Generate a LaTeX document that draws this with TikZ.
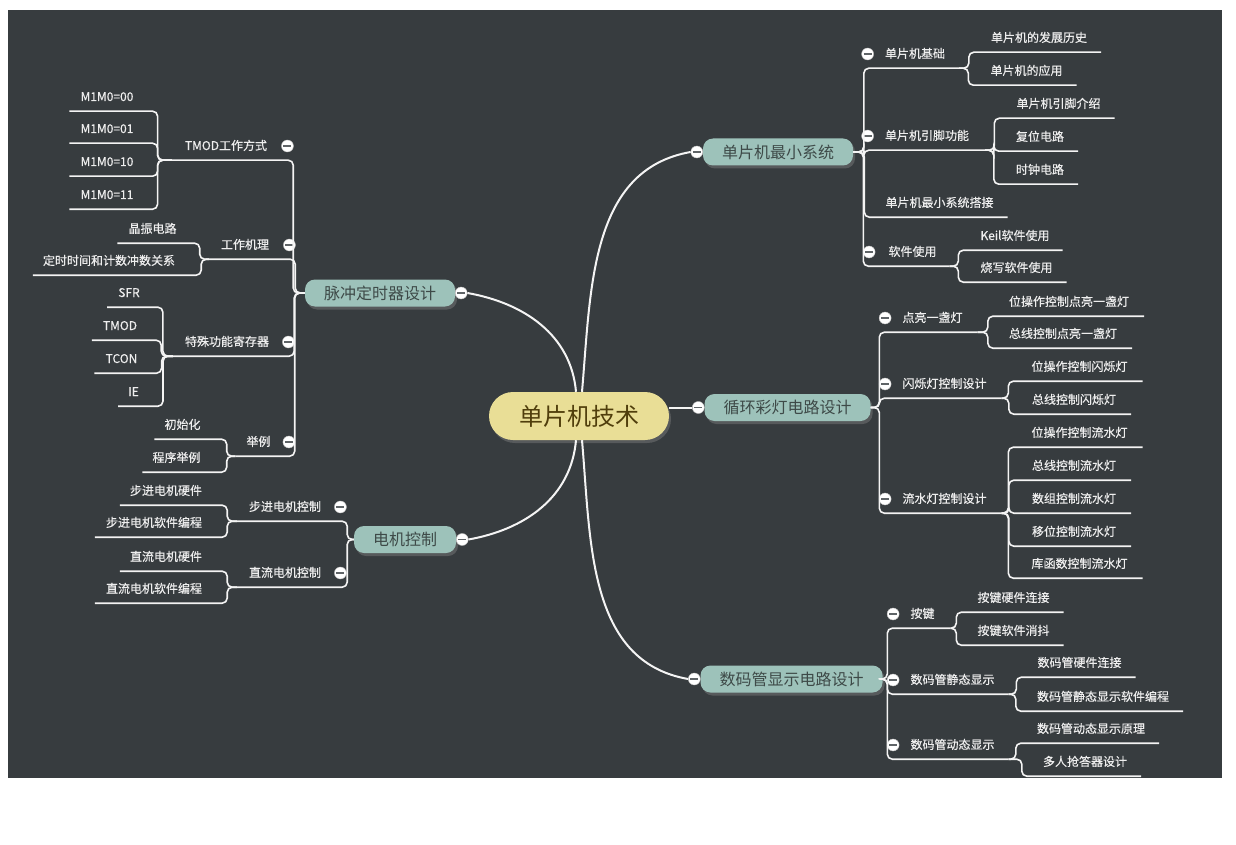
\documentclass[tikz,border=0pt]{standalone}
\usepackage{fontspec}
\setmainfont{Noto Sans CJK SC}
\newfontfamily\itemfont{Noto Sans CJK SC}[FakeBold=0.5]
\usetikzlibrary{positioning}
\usetikzlibrary{shadows}
\definecolor{bgdark}{RGB}{55,60,63}
\definecolor{rootfill}{RGB}{233,222,150}
\definecolor{roottext}{RGB}{80,62,12}
\definecolor{topicfill}{RGB}{157,194,186}
\definecolor{topictext}{RGB}{62,74,72}
\definecolor{leaftext}{RGB}{238,238,238}
\definecolor{linecol}{RGB}{244,244,244}
\definecolor{foldbar}{RGB}{95,100,103}
\tikzset{root/.style = {rounded corners=24pt,fill=rootfill,text=roottext,minimum width=180pt,minimum height=48pt,font=\fontsize{24}{28}\selectfont,drop shadow={shadow xshift=2pt,shadow yshift=-3pt,opacity=.45}}}
\tikzset{topic/.style = {rounded corners=10pt,fill=topicfill,text=topictext,minimum height=27pt,inner xsep=19pt,font=\fontsize{16}{19}\selectfont,drop shadow={shadow xshift=2pt,shadow yshift=-3pt,opacity=.45}}}
\tikzset{item/.style = {text=leaftext,font=\itemfont\fontsize{12}{14}\selectfont,inner xsep=0pt,inner ysep=8pt,text height=10pt,text depth=2pt}}
\tikzset{fold/.style = {circle,fill=white,draw=white!75!black,line width=.4pt,minimum size=12pt,inner sep=0pt,
  path picture={\draw[foldbar,line width=1.6pt] ([xshift=-4pt]path picture bounding box.center) -- ([xshift=4pt]path picture bounding box.center);}}}
\tikzset{trunk/.style = {linecol,line width=2pt}}
\tikzset{twig/.style = {linecol,line width=1.6pt,rounded corners=5pt}}

\begin{document}
\begin{tikzpicture}[x=1pt,y=1pt]
                \fill[white] (0,0) rectangle (1236,-845);
                \fill[bgdark] (8,-10) rectangle (1222,-778);

                \node[root] (c) at (579,-416) {单片机技术};

                \node[topic] (m1) at (778,-152) {单片机最小系统};
                \node[topic] (m2) at (787.5,-407.5) {循环彩灯电路设计};
                \node[topic] (m3) at (791.5,-679) {数码管显示电路设计};
                \node[topic] (m4) at (380,-293) {脉冲定时器设计};
                \node[topic] (m5) at (405,-539.5) {电机控制};

                \node[fold] (f1) at ([xshift=-6pt]m1.west) {};
                \node[fold] (f2) at ([xshift=-6pt]m2.west) {};
                \node[fold] (f3) at ([xshift=-6pt]m3.west) {};
                \node[fold] (f4) at ([xshift=6pt]m4.east) {};
                \node[fold] (f5) at ([xshift=6pt]m5.east) {};

                % 单片机最小系统
                \node[item] (s11) at (915,-54) {单片机基础};
                \node[item] (s12) at (927,-136) {单片机引脚功能};
                \node[item] (s13) at (939.5,-203) {单片机最小系统搭接};
                \node[item] (s14) at (912.5,-252) {软件使用};
                \node[item] (l111) at (1039,-38) {单片机的发展历史};
                \node[item] (l112) at (1026.5,-71) {单片机的应用};
                \node[item] (l121) at (1058.5,-104) {单片机引脚介绍};
                \node[item] (l122) at (1040,-137) {复位电路};
                \node[item] (l123) at (1040,-170) {时钟电路};
                \node[item] (l141) at (1015,-236) {Keil软件使用};
                \node[item] (l142) at (1016.5,-268) {烧写软件使用};
                \node[fold,left=11pt of s11] (g11) {};
                \node[fold,left=11pt of s12] (g12) {};
                \node[fold,left=13pt of s14] (g14) {};

                % 循环彩灯电路设计
                \node[item] (s21) at (932.5,-318) {点亮一盏灯};
                \node[item] (s22) at (944.5,-384) {闪烁灯控制设计};
                \node[item] (s23) at (944.5,-499) {流水灯控制设计};
                \node[item] (l211) at (1069,-302) {位操作控制点亮一盏灯};
                \node[item] (l212) at (1063,-334) {总线控制点亮一盏灯};
                \node[item] (l221) at (1079.5,-367) {位操作控制闪烁灯};
                \node[item] (l222) at (1074,-400) {总线控制闪烁灯};
                \node[item] (l231) at (1079.5,-433) {位操作控制流水灯};
                \node[item] (l232) at (1074,-466) {总线控制流水灯};
                \node[item] (l233) at (1074,-499) {数组控制流水灯};
                \node[item] (l234) at (1074,-532) {移位控制流水灯};
                \node[item] (l235) at (1079.5,-564) {库函数控制流水灯};
                \node[fold,left=11pt of s21] (g21) {};
                \node[fold,left=11pt of s22] (g22) {};
                \node[fold,left=11pt of s23] (g23) {};

                % 数码管显示电路设计
                \node[item] (s31) at (922.5,-614) {按键};
                \node[item] (s32) at (952.5,-680) {数码管静态显示};
                \node[item] (s33) at (952.5,-745) {数码管动态显示};
                \node[item] (l311) at (1013.5,-598) {按键硬件连接};
                \node[item] (l312) at (1013.5,-631) {按键软件消抖};
                \node[item] (l321) at (1079.5,-663) {数码管硬件连接};
                \node[item] (l322) at (1103,-697) {数码管静态显示软件编程};
                \node[item] (l331) at (1091,-729) {数码管动态显示原理};
                \node[item] (l332) at (1085,-762) {多人抢答器设计};
                \node[fold,left=11pt of s31] (g31) {};
                \node[fold,left=11pt of s32] (g32) {};
                \node[fold,left=11pt of s33] (g33) {};

                % 脉冲定时器设计
                \node[item] (s41) at (226,-146) {TMOD工作方式};
                \node[item] (s42) at (245,-245) {工作机理};
                \node[item] (s43) at (227,-342) {特殊功能寄存器};
                \node[item] (s44) at (258.5,-442) {举例};
                \node[item] (l411) at (107,-97) {M1M0=00};
                \node[item] (l412) at (107,-129) {M1M0=01};
                \node[item] (l413) at (107,-162) {M1M0=10};
                \node[item] (l414) at (107,-195) {M1M0=11};
                \node[item] (l421) at (152.5,-229) {晶振电路};
                \node[item] (l422) at (109,-261) {定时时间和计数冲数关系};
                \node[item] (l431) at (129,-293) {SFR};
                \node[item] (l432) at (120,-326) {TMOD};
                \node[item] (l433) at (121.5,-359) {TCON};
                \node[item] (l434) at (133.5,-392) {IE};
                \node[item] (l441) at (182.5,-425) {初始化};
                \node[item] (l442) at (176.5,-458) {程序举例};
                \node[fold,right=14pt of s41] (g41) {};
                \node[fold,right=14pt of s42] (g42) {};
                \node[fold,right=13pt of s43] (g43) {};
                \node[fold,right=12pt of s44] (g44) {};

                % 电机控制
                \node[item] (s51) at (285,-507) {步进电机控制};
                \node[item] (s52) at (285,-573) {直流电机控制};
                \node[item] (l511) at (166,-491) {步进电机硬件};
                \node[item] (l512) at (154,-523) {步进电机软件编程};
                \node[item] (l521) at (166,-557) {直流电机硬件};
                \node[item] (l522) at (154,-589) {直流电机软件编程};
                \node[fold,right=13pt of s51] (g51) {};
                \node[fold,right=13pt of s52] (g52) {};

                % main branches
                \draw[trunk] ([xshift=3pt]c.north) to[out=85,in=190] (f1.west);
                \draw[trunk] (f2.west) -- (f2.west -| c.east);
                \draw[trunk] ([xshift=3pt]c.south) to[out=-85,in=170] (f3.west);
                \draw[trunk] ([xshift=-3pt]c.north) to[out=95,in=-10] (f4.east);
                \draw[trunk] ([xshift=-3pt]c.south) to[out=-95,in=10] (f5.east);

                \draw[twig] (m1.east) -| ([xshift=-21pt]s11.south west) -- ([xshift=14pt]s11.south east);
                \draw[twig] (m1.east) -| ([xshift=-21pt]s12.south west) -- ([xshift=16pt]s12.south east);
                \draw[twig] (m1.east) -| ([xshift=-21pt]s13.south west) -- ([xshift=14pt]s13.south east);
                \draw[twig] (m1.east) -| ([xshift=-25pt]s14.south west) -- ([xshift=13pt]s14.south east);
                \draw[twig] ([xshift=14pt]s11.south east) -| ([xshift=-22pt]l111.south west) -- ([xshift=14pt]l111.south east);
                \draw[twig] ([xshift=14pt]s11.south east) -| ([xshift=-22pt]l112.south west) -- ([xshift=14pt]l112.south east);
                \draw[twig] ([xshift=16pt]s12.south east) -| ([xshift=-22pt]l121.south west) -- ([xshift=14pt]l121.south east);
                \draw[twig] ([xshift=16pt]s12.south east) -| ([xshift=-22pt]l122.south west) -- ([xshift=14pt]l122.south east);
                \draw[twig] ([xshift=16pt]s12.south east) -| ([xshift=-22pt]l123.south west) -- ([xshift=14pt]l123.south east);
                \draw[twig] ([xshift=13pt]s14.south east) -| ([xshift=-22pt]l141.south west) -- ([xshift=13pt]l141.south east);
                \draw[twig] ([xshift=13pt]s14.south east) -| ([xshift=-22pt]l142.south west) -- ([xshift=14pt]l142.south east);

                \draw[twig] (m2.east) -| ([xshift=-23pt]s21.south west) -- ([xshift=15pt]s21.south east);
                \draw[twig] (m2.east) -| ([xshift=-23pt]s22.south west) -- ([xshift=15pt]s22.south east);
                \draw[twig] (m2.east) -| ([xshift=-23pt]s23.south west) -- ([xshift=15pt]s23.south east);
                \draw[twig] ([xshift=15pt]s21.south east) -| ([xshift=-21pt]l211.south west) -- ([xshift=15pt]l211.south east);
                \draw[twig] ([xshift=15pt]s21.south east) -| ([xshift=-21pt]l212.south west) -- ([xshift=15pt]l212.south east);
                \draw[twig] ([xshift=15pt]s22.south east) -| ([xshift=-23pt]l221.south west) -- ([xshift=15pt]l221.south east);
                \draw[twig] ([xshift=15pt]s22.south east) -| ([xshift=-23pt]l222.south west) -- ([xshift=15pt]l222.south east);
                \draw[twig] ([xshift=15pt]s23.south east) -| ([xshift=-23pt]l231.south west) -- ([xshift=15pt]l231.south east);
                \draw[twig] ([xshift=15pt]s23.south east) -| ([xshift=-23pt]l232.south west) -- ([xshift=15pt]l232.south east);
                \draw[twig] ([xshift=15pt]s23.south east) -| ([xshift=-23pt]l233.south west) -- ([xshift=15pt]l233.south east);
                \draw[twig] ([xshift=15pt]s23.south east) -| ([xshift=-23pt]l234.south west) -- ([xshift=15pt]l234.south east);
                \draw[twig] ([xshift=15pt]s23.south east) -| ([xshift=-23pt]l235.south west) -- ([xshift=15pt]l235.south east);

                \draw[twig] (m3.east) -| ([xshift=-23pt]s31.south west) -- ([xshift=16pt]s31.south east);
                \draw[twig] (m3.east) -| ([xshift=-23pt]s32.south west) -- ([xshift=14pt]s32.south east);
                \draw[twig] (m3.east) -| ([xshift=-23pt]s33.south west) -- ([xshift=14pt]s33.south east);
                \draw[twig] ([xshift=16pt]s31.south east) -| ([xshift=-21pt]l311.south west) -- ([xshift=14pt]l311.south east);
                \draw[twig] ([xshift=16pt]s31.south east) -| ([xshift=-21pt]l312.south west) -- ([xshift=14pt]l312.south east);
                \draw[twig] ([xshift=14pt]s32.south east) -| ([xshift=-21pt]l321.south west) -- ([xshift=14pt]l321.south east);
                \draw[twig] ([xshift=14pt]s32.south east) -| ([xshift=-21pt]l322.south west) -- ([xshift=14pt]l322.south east);
                \draw[twig] ([xshift=14pt]s33.south east) -| ([xshift=-21pt]l331.south west) -- ([xshift=14pt]l331.south east);
                \draw[twig] ([xshift=14pt]s33.south east) -| ([xshift=-21pt]l332.south west) -- ([xshift=14pt]l332.south east);

                \draw[twig] (m4.west) -| ([xshift=26pt]s41.south east) -- ([xshift=-13pt]s41.south west);
                \draw[twig] (m4.west) -| ([xshift=26pt]s42.south east) -- ([xshift=-12pt]s42.south west);
                \draw[twig] (m4.west) -| ([xshift=25pt]s43.south east) -- ([xshift=-12pt]s43.south west);
                \draw[twig] (m4.west) -| ([xshift=24pt]s44.south east) -- ([xshift=-11pt]s44.south west);
                \draw[twig] ([xshift=-13pt]s41.south west) -| ([xshift=24pt]l411.south east) -- ([xshift=-11pt]l411.south west);
                \draw[twig] ([xshift=-13pt]s41.south west) -| ([xshift=24pt]l412.south east) -- ([xshift=-11pt]l412.south west);
                \draw[twig] ([xshift=-13pt]s41.south west) -| ([xshift=24pt]l413.south east) -- ([xshift=-11pt]l413.south west);
                \draw[twig] ([xshift=-13pt]s41.south west) -| ([xshift=24pt]l414.south east) -- ([xshift=-11pt]l414.south west);
                \draw[twig] ([xshift=-12pt]s42.south west) -| ([xshift=23pt]l421.south east) -- ([xshift=-11pt]l421.south west);
                \draw[twig] ([xshift=-12pt]s42.south west) -| ([xshift=26pt]l422.south east) -- ([xshift=-10pt]l422.south west);
                \draw[twig] ([xshift=-12pt]s43.south west) -| ([xshift=23pt]l431.south east) -- ([xshift=-11pt]l431.south west);
                \draw[twig] ([xshift=-12pt]s43.south west) -| ([xshift=24pt]l432.south east) -- ([xshift=-11pt]l432.south west);
                \draw[twig] ([xshift=-12pt]s43.south west) -| ([xshift=24pt]l433.south east) -- ([xshift=-11pt]l433.south west);
                \draw[twig] ([xshift=-12pt]s43.south west) -| ([xshift=24pt]l434.south east) -- ([xshift=-10pt]l434.south west);
                \draw[twig] ([xshift=-11pt]s44.south west) -| ([xshift=26pt]l441.south east) -- ([xshift=-10pt]l441.south west);
                \draw[twig] ([xshift=-11pt]s44.south west) -| ([xshift=26pt]l442.south east) -- ([xshift=-10pt]l442.south west);

                \draw[twig] (m5.west) -| ([xshift=26pt]s51.south east) -- ([xshift=-12pt]s51.south west);
                \draw[twig] (m5.west) -| ([xshift=26pt]s52.south east) -- ([xshift=-12pt]s52.south west);
                \draw[twig] ([xshift=-12pt]s51.south west) -| ([xshift=25pt]l511.south east) -- ([xshift=-10pt]l511.south west);
                \draw[twig] ([xshift=-12pt]s51.south west) -| ([xshift=25pt]l512.south east) -- ([xshift=-11pt]l512.south west);
                \draw[twig] ([xshift=-12pt]s52.south west) -| ([xshift=25pt]l521.south east) -- ([xshift=-10pt]l521.south west);
                \draw[twig] ([xshift=-12pt]s52.south west) -| ([xshift=25pt]l522.south east) -- ([xshift=-11pt]l522.south west);
            \end{tikzpicture}
\end{document}
